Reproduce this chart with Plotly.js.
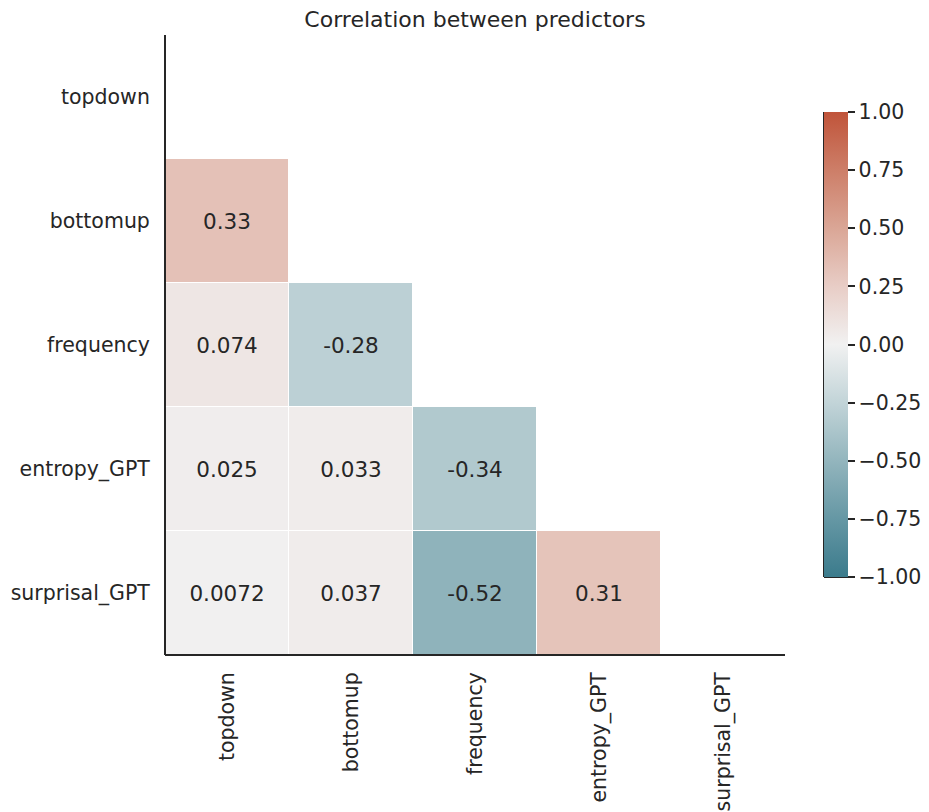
<!DOCTYPE html>
<html>
<head>
<meta charset="utf-8">
<script src="https://cdn.plot.ly/plotly-3.0.1.min.js"></script>
<style>html,body{margin:0;padding:0;background:#fff;}#chart{width:929px;height:812px;}</style>
</head>
<body>
<div id="chart"></div>
<script>
var predictors = ["topdown", "bottomup", "frequency", "entropy_GPT", "surprisal_GPT"];
// lower-triangle correlations (row = y category, column = x category); null = masked
var rowTopdown      = [null, null, null, null, null];
var rowBottomup     = [0.33, null, null, null, null];
var rowFrequency    = [0.074, -0.28, null, null, null];
var rowEntropyGPT   = [0.025, 0.033, -0.34, null, null];
var rowSurprisalGPT = [0.0072, 0.037, -0.52, 0.31, null];
var labelTopdown      = ["", "", "", "", ""];
var labelBottomup     = ["0.33", "", "", "", ""];
var labelFrequency    = ["0.074", "-0.28", "", "", ""];
var labelEntropyGPT   = ["0.025", "0.033", "-0.34", "", ""];
var labelSurprisalGPT = ["0.0072", "0.037", "-0.52", "0.31", ""];
var cbTickVals = [1, 0.75, 0.5, 0.25, 0, -0.25, -0.5, -0.75, -1];
var cbTickText = ["1.00", "0.75", "0.50", "0.25", "0.00", "\u22120.25", "\u22120.50", "\u22120.75", "\u22121.00"];

var z = [rowTopdown, rowBottomup, rowFrequency, rowEntropyGPT, rowSurprisalGPT];
var txt = [labelTopdown, labelBottomup, labelFrequency, labelEntropyGPT, labelSurprisalGPT];

var ink = "#262626";
var font = "DejaVu Sans, sans-serif";
var cbX = (824 - 165) / 620;
var cbY0 = (655 - 577) / 620, cbY1 = (655 - 112) / 620;

var trace = {
  type: "heatmap",
  x: predictors,
  y: predictors,
  z: z,
  text: txt,
  texttemplate: "%{text}",
  textfont: {family: font, size: 21.5, color: ink},
  zmin: -1, zmax: 1,
  xgap: 1, ygap: 1,
  hoverongaps: false,
  colorscale: [
    [0, "#3b7b8c"],
    [0.125, "#6597a4"],
    [0.25, "#93b5bd"],
    [0.375, "#c2d4d8"],
    [0.5, "#f1f1f1"],
    [0.625, "#e8cdc6"],
    [0.75, "#daa696"],
    [0.875, "#cd7e68"],
    [1, "#c0543a"]
  ],
  colorbar: {
    x: cbX, xanchor: "left", xref: "paper", xpad: 0, ypad: 0,
    y: (cbY0 + cbY1) / 2, yanchor: "middle",
    thickness: 24, thicknessmode: "pixels",
    len: 465, lenmode: "pixels",
    outlinewidth: 0,
    ticks: "outside", ticklen: 7, tickwidth: 2, tickcolor: ink,
    tickvals: cbTickVals, ticktext: cbTickText,
    tickfont: {family: font, size: 20.5, color: ink}
  }
};

var layout = {
  width: 929, height: 812,
  margin: {l: 165, r: 144, t: 35, b: 157, autoexpand: false},
  paper_bgcolor: "#fff", plot_bgcolor: "#fff",
  title: {text: "Correlation between predictors", font: {family: font, size: 22, color: ink}, x: 0.5113, xanchor: "center", y: 0.976, yanchor: "middle"},
  xaxis: {
    type: "category", tickangle: -90, showgrid: false, zeroline: false,
    showline: false, ticks: "outside", ticklen: 8, tickcolor: "rgba(0,0,0,0)",
    tickfont: {family: font, size: 20.5, color: ink}, fixedrange: true, automargin: false
  },
  yaxis: {
    type: "category", autorange: "reversed", showgrid: false, zeroline: false,
    showline: false, ticks: "outside", ticklen: 10, tickcolor: "rgba(0,0,0,0)",
    tickfont: {family: font, size: 20.5, color: ink}, fixedrange: true, automargin: false
  },
  shapes: [
    {type: "line", xref: "paper", yref: "paper", x0: 0, x1: 0, y0: 0, y1: 1, line: {color: ink, width: 2}},
    {type: "line", xref: "paper", yref: "paper", x0: 0, x1: 1, y0: 0, y1: 0, line: {color: ink, width: 2}},
    {type: "line", xref: "paper", yref: "paper", x0: cbX, x1: cbX, y0: cbY0, y1: cbY1, line: {color: ink, width: 2}},
    {type: "line", xref: "paper", yref: "paper", x0: cbX, x1: cbX + 24 / 620, y0: cbY0, y1: cbY0, line: {color: ink, width: 2}}
  ]
};

Plotly.newPlot("chart", [trace], layout, {displayModeBar: false, staticPlot: true});
</script>
</body>
</html>
